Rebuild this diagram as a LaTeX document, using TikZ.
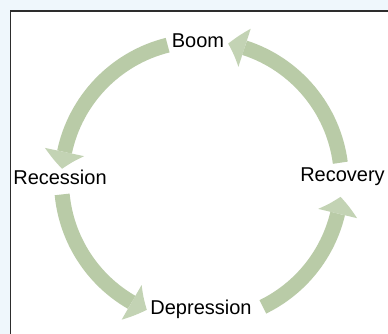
\documentclass[tikz,border=0pt]{standalone}
\usepackage{fontspec}
\setmainfont{Liberation Sans}
\definecolor{cyclegreen}{RGB}{185,203,167}
\definecolor{pageblue}{RGB}{239,247,252}
\definecolor{frameedge}{RGB}{45,45,45}
\usetikzlibrary{arrows.meta,bending,calc,positioning}

\tikzset{
  phase/.style={font=\fontsize{20}{24}\selectfont, inner sep=0pt, anchor=base},
  cyclearrow/.style={draw=cyclegreen, line width=15pt,
    -{Triangle[width=40pt, length=17pt, line width=0pt, fill=cyclegreen!85!white, bend]}},
}

\begin{document}
\begin{tikzpicture}[x=1pt, y=1pt]
  \useasboundingbox (0,0) rectangle (388,334);
  \clip (0,0) rectangle (388,334);
  \fill[pageblue] (0,0) rectangle (388,334);
  \draw[frameedge, line width=1.6pt, fill=white] (10.5,323) rectangle (400,-10);

  \coordinate (hub) at (201.5,153);

  % the four phases
  \node[phase] (boom) at (198,286) {Boom};
  \node[phase] (recession) at (60,149) {Recession};
  \node[phase] (depression) at (201,19) {Depression};
  \node[phase] (recovery) at (342.5,152) {Recovery};

  % where each arc leaves its phase
  \coordinate (boom-out) at ($(hub)+(104:140)$);
  \coordinate (recession-out) at ($(hub)+(185.5:140)$);
  \coordinate (depression-out) at ($(hub)+(296:140)$);
  \coordinate (recovery-out) at ($(hub)+(7.5:140)$);

  \draw[cyclearrow] (boom-out) arc[start angle=104, end angle=175, radius=140];
  \draw[cyclearrow] (recession-out) arc[start angle=185.5, end angle=247, radius=140];
  \draw[cyclearrow] (depression-out) arc[start angle=296, end angle=353.5, radius=140];
  \draw[cyclearrow] (recovery-out) arc[start angle=7.5, end angle=79, radius=140];
\end{tikzpicture}
\end{document}
